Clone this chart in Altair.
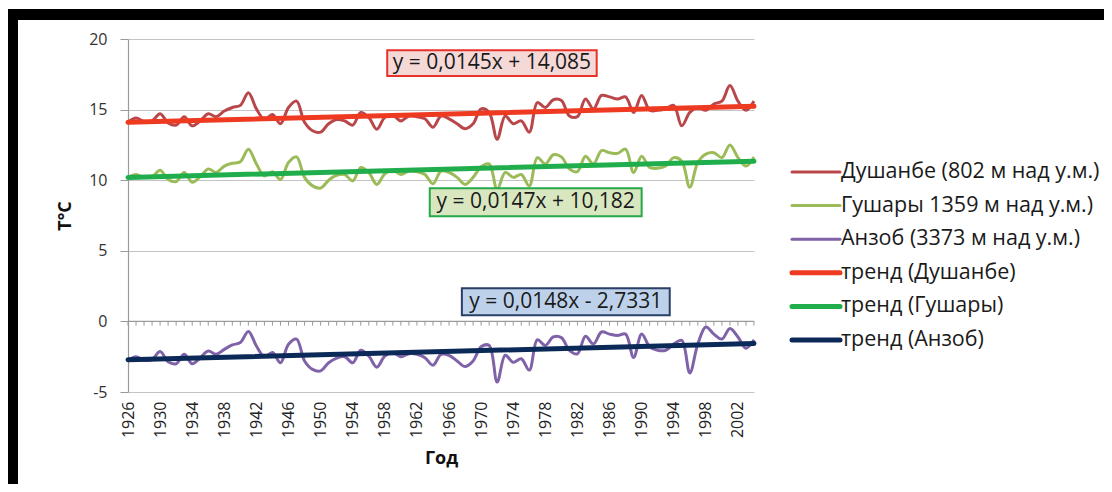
import altair as alt
import pandas as pd

years = list(range(1926, 2005))

dushanbe = [14.1, 14.4, 14.15, 14.2, 14.7, 14.05, 13.9, 14.5, 13.85, 14.2,
            14.7, 14.5, 14.9, 15.15, 15.3, 16.2, 15.05, 14.3, 14.65, 14.0,
            15.15, 15.6, 14.1, 13.5, 13.4, 14.0, 14.3, 14.2, 13.9, 14.8,
            14.45, 13.6, 14.45, 14.6, 14.2, 14.55, 14.5, 14.35, 13.75, 14.55,
            14.35, 14.0, 13.65, 14.0, 15.05, 14.8, 12.9, 14.55, 14.0, 14.2,
            13.4, 15.5, 15.15, 15.7, 15.65, 14.55, 14.5, 15.75, 15.05, 16.0,
            15.9, 15.75, 15.9, 14.8, 16.0, 14.95, 14.95, 15.05, 15.3, 13.85,
            14.8, 15.15, 14.95, 15.4, 15.6, 16.7, 15.6, 14.95, 15.6]

gushary = [10.2, 10.4, 10.2, 10.25, 10.7, 10.05, 9.9, 10.55, 9.85, 10.25,
           10.8, 10.55, 11.0, 11.2, 11.3, 12.2, 11.15, 10.3, 10.6, 10.05,
           11.25, 11.65, 10.2, 9.6, 9.45, 10.0, 10.35, 10.4, 9.95, 10.9,
           10.55, 9.7, 10.45, 10.7, 10.4, 10.65, 10.6, 10.4, 9.75, 10.65,
           10.55, 10.2, 9.7, 10.2, 10.95, 11.15, 9.35, 10.55, 10.2, 10.4,
           9.6, 11.6, 11.15, 11.8, 11.65, 10.8, 10.6, 11.7, 11.15, 12.1,
           11.95, 11.9, 12.2, 10.55, 11.7, 10.9, 10.85, 11.0, 11.6, 11.35,
           9.5, 11.25, 11.85, 11.95, 11.6, 12.5, 11.6, 11.0, 11.65]

anzob = [-2.76, -2.5, -2.76, -2.7, -2.14, -2.86, -3.0, -2.33, -3.0, -2.57,
         -2.1, -2.33, -1.98, -1.67, -1.5, -0.71, -1.74, -2.5, -2.2, -2.93,
         -1.62, -1.26, -2.8, -3.4, -3.5, -2.93, -2.6, -2.5, -2.93, -2.05,
         -2.45, -3.24, -2.45, -2.2, -2.5, -2.29, -2.33, -2.57, -3.1, -2.33,
         -2.4, -2.8, -3.2, -2.8, -1.8, -1.7, -4.3, -2.4, -2.9, -2.65,
         -3.45, -1.3, -1.7, -1.1, -1.15, -2.05, -2.3, -1.05, -1.6, -0.75,
         -0.9, -1.0, -0.9, -2.55, -0.9, -1.8, -2.05, -2.05, -1.6, -1.35,
         -3.65, -1.6, -0.4, -0.9, -1.25, -0.5, -1.1, -1.9, -1.3]

year_labels = list(range(1926, 2003, 4))
y_ticks = [-5, 0, 5, 10, 15, 20]

series_names = ["Душанбе (802 м над у.м.)", "Гушары 1359 м над у.м.)", "Анзоб (3373 м над у.м.)"]
trend_names = ["тренд (Душанбе)", "тренд (Гушары)", "тренд (Анзоб)"]
trend_slopes = [0.0145, 0.0147, 0.0148]
trend_intercepts = [14.085, 10.182, -2.7331]
trend_labels = ["y = 0,0145x + 14,085", "y = 0,0147x + 10,182", "y = 0,0148x - 2,7331"]

series_colors = ["#b9474a", "#9bbb59", "#7f62a8"]
trend_colors = ["#ef3a22", "#20ad4c", "#0c2a58"]
box_fills = ["#f4d9d7", "#d8e7c0", "#bdd1ea"]
box_strokes = ["#e8312a", "#26a84a", "#2a3f66"]
# label box extents in data units (year, temperature)
box_x1 = [1958.3, 1963.6, 1967.6]
box_x2 = [1984.4, 1990.0, 1993.5]
box_y1 = [19.2, 9.43, 2.34]
box_y2 = [17.38, 7.45, 0.43]

W, H = 626, 353
FONT = "Open Sans"

# ---- data tables
rows = []
for name, col, vals in zip(series_names, series_colors, [dushanbe, gushary, anzob]):
    for y, v in zip(years, vals):
        rows.append({"year": y, "value": v, "series": name, "color": col})
df = pd.DataFrame(rows)

trows = []
n = len(years)
for name, col, a, b in zip(trend_names, trend_colors, trend_slopes, trend_intercepts):
    for idx in (1, n):
        trows.append({"year": years[idx - 1], "value": a * idx + b, "series": name, "color": col})
tdf = pd.DataFrame(trows)

xscale = alt.Scale(domain=[years[0], years[-1]], nice=False, zero=False)
yscale = alt.Scale(domain=[-5, 20], nice=False)

X_AXIS = alt.Axis(values=year_labels, format="d", labelAngle=270,
                  labelOverlap=False, grid=False, ticks=False, domain=False,
                  labelFontSize=16, labelColor="#222222", labelPadding=9, labelFont=FONT,
                  title="Год", titleFont=FONT, titleFontSize=18,
                  titleFontWeight="bold", titleColor="#111111", titlePadding=12)
Y_AXIS = alt.Axis(values=y_ticks, labelExpr="'' + datum.value",
                  grid=True, gridColor="#c4c4c4",
                  gridWidth=1.2, tickSize=8, tickColor="#9a9a9a", domainColor="#9a9a9a",
                  domainWidth=1.2, labelFontSize=16, labelPadding=13, labelColor="#333333",
                  labelFont=FONT, title="T°C", titleFont=FONT, titleFontSize=18,
                  titleFontWeight="bold", titleColor="#111111", titlePadding=14)


def ex(field):
    return alt.X(field, scale=xscale, axis=X_AXIS, title="Год")


def ey(field):
    return alt.Y(field, scale=yscale, axis=Y_AXIS, title="T°C")


lines = alt.Chart(df).mark_line(strokeWidth=3, interpolate="catmull-rom").encode(
    x=ex("year:Q"), y=ey("value:Q"),
    color=alt.Color("color:N", scale=None),
    detail="series:N",
)

trends = alt.Chart(tdf).mark_line(strokeWidth=5, strokeCap="round").encode(
    x=ex("year:Q"), y=ey("value:Q"),
    color=alt.Color("color:N", scale=None),
    detail="series:N",
)

# category axis drawn at y = 0 with a tick at every year
axis0 = alt.Chart(pd.DataFrame({"x1": [years[0]], "x2": [years[-1]], "y0": [0]})).mark_rule(
    color="#9a9a9a", strokeWidth=1.2).encode(
    x=ex("x1:Q"), x2="x2:Q", y=ey("y0:Q"))
ticks0 = alt.Chart(pd.DataFrame({"year": years, "y0": 0, "y1": -0.3})).mark_rule(
    color="#9a9a9a", strokeWidth=1).encode(
    x=ex("year:Q"), y=ey("y0:Q"), y2="y1:Q")

# trend equation boxes
bdf = pd.DataFrame({"x1": box_x1, "x2": box_x2, "y1": box_y1, "y2": box_y2,
                    "fill": box_fills, "stroke": box_strokes, "label": trend_labels})
bdf["xc"] = (bdf["x1"] + bdf["x2"]) / 2
bdf["yc"] = (bdf["y1"] + bdf["y2"]) / 2
boxes = alt.Chart(bdf).mark_rect(strokeWidth=2).encode(
    x=ex("x1:Q"), x2="x2:Q", y=ey("y1:Q"), y2="y2:Q",
    fill=alt.Fill("fill:N", scale=None), stroke=alt.Stroke("stroke:N", scale=None))
box_text = alt.Chart(bdf).mark_text(fontSize=21, font=FONT, color="#1a1a1a", baseline="middle").encode(
    x=ex("xc:Q"), y=ey("yc:Q"), text="label:N")

# custom legend on the right
leg_names = series_names + trend_names
leg_colors = series_colors + trend_colors
leg_widths = [3, 3, 3, 5, 5, 5]
ldf = pd.DataFrame({"name": leg_names, "color": leg_colors, "w": leg_widths})
ldf["ypix"] = [133 + 33.6 * i for i in range(len(ldf))]
leg_lines = alt.Chart(ldf).mark_rule(strokeCap="round").encode(
    x=alt.value(664), x2=alt.value(712), y=alt.Y("ypix:Q", scale=None),
    color=alt.Color("color:N", scale=None), strokeWidth=alt.StrokeWidth("w:Q", scale=None))
leg_text = alt.Chart(ldf).mark_text(align="left", baseline="middle", fontSize=21.5, font=FONT,
                                    color="#1a1a1a").encode(
    x=alt.value(713), y=alt.Y("ypix:Q", scale=None), text="name:N")

# dark frame of the original picture
frame = alt.Chart(pd.DataFrame({"k": [0]})).mark_rect(color="#000000").encode(
    x=alt.value(-120), x2=alt.value(984), y=alt.value(-30), y2=alt.value(-19))
frame_left = alt.Chart(pd.DataFrame({"k": [0]})).mark_rect(color="#000000").encode(
    x=alt.value(-120), x2=alt.value(-110), y=alt.value(-30), y2=alt.value(453))

chart = alt.layer(lines, frame, frame_left, axis0, ticks0, trends, boxes, box_text,
                  leg_lines, leg_text).properties(
    width=W, height=H,
    padding={"left": 120, "top": 31, "right": 350, "bottom": 92},
    autosize=alt.AutoSizeParams(type="none"),
    background="white",
).configure_view(stroke="transparent").configure_axisX(labelOverlap=False)

chart.save("out.html", embed_options={"renderer": "svg", "actions": False})
